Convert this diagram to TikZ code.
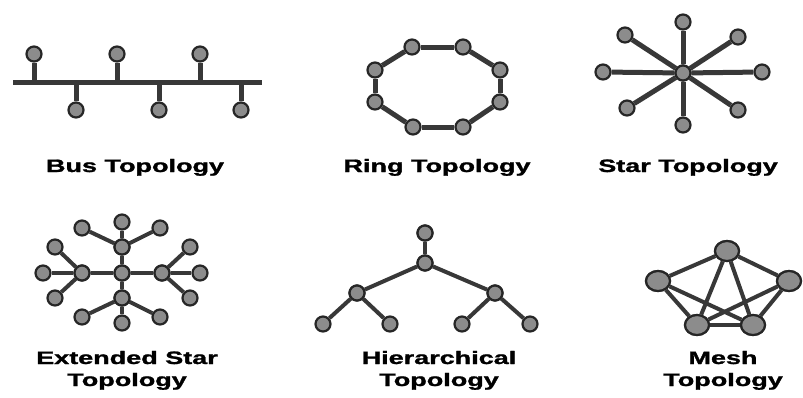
\documentclass[tikz,border=0pt]{standalone}
\usepackage{fontspec}
\usetikzlibrary{shapes.geometric}
\setmainfont{Liberation Sans}[BoldFeatures={FakeBold=1.2}]
\begin{document}
\begin{tikzpicture}[x=1pt,y=-1pt,
  nd/.style={circle,draw=black!85,line width=2.2pt,fill=black!45,inner sep=0pt,minimum size=15pt},
  bignd/.style={ellipse,draw=black!85,line width=2.2pt,fill=black!45,inner sep=0pt,minimum width=24pt,minimum height=20pt},
  ln/.style={draw=black!78,line width=5pt},
  thinln/.style={draw=black!78,line width=4pt},
  lbl/.style={font=\bfseries\fontsize{18}{22}\selectfont,anchor=base,inner sep=0pt,xscale=1.5,align=center}]
\useasboundingbox (0,0) rectangle (803,397);
% ---------- Bus ----------
\coordinate (busL) at (13,82);
\coordinate (busR) at (262,82);
\draw[ln] (busL) -- (busR);
\foreach \n/\x/\y in {b1/34/54,b2/117/54,b3/200/54,b4/76/110,b5/159/110,b6/241/110}{
  \node[nd] (\n) at (\x,\y) {};
  \coordinate (\n s) at (\x,82);
  \draw[ln] (\n) -- (\n s);
}
\node[lbl] (busT) at (135,172) {Bus Topology};
% ---------- Ring ----------
\foreach \n/\x/\y in {r1/412/47,r2/463/47,r3/500/70,r4/500/102,r5/463/127,r6/413/127,r7/375/102,r8/375/70}{
  \node[nd] (\n) at (\x,\y) {};
}
\foreach \a/\b in {r1/r2,r2/r3,r3/r4,r4/r5,r5/r6,r6/r7,r7/r8,r8/r1}{
  \draw[ln] (\a) -- (\b);
}
\node[lbl] (ringT) at (437,172) {Ring Topology};
% ---------- Star ----------
\node[nd] (sc) at (683,73) {};
\foreach \n/\x/\y in {s1/683/22,s2/738/37,s3/762/72,s4/738/110,s5/683/125,s6/627/108,s7/603/72,s8/625/35}{
  \node[nd] (\n) at (\x,\y) {};
  \draw[ln] (sc) -- (\n);
}
\node[nd] at (sc) {};
\node[lbl] (starT) at (688,172) {Star Topology};
% ---------- Extended star ----------
\node[nd] (ec) at (122,273) {};
\node[nd] (eh1) at (122,247) {};
\node[nd] (eh2) at (82,273) {};
\node[nd] (eh3) at (162,273) {};
\node[nd] (eh4) at (122,298) {};
\foreach \h in {eh1,eh2,eh3,eh4}{\draw[thinln] (ec) -- (\h);}
\foreach \n/\h/\x/\y in {e1/eh1/122/222,e2/eh1/82/228,e3/eh1/160/228,
  e4/eh2/43/273,e5/eh2/55/247,e6/eh2/55/298,
  e7/eh3/200/273,e8/eh3/190/247,e9/eh3/190/298,
  e10/eh4/122/323,e11/eh4/82/317,e12/eh4/160/317}{
  \node[nd] (\n) at (\x,\y) {};
  \draw[thinln] (\h) -- (\n);
}
\foreach \h in {ec,eh1,eh2,eh3,eh4}{\node[nd] at (\h) {};}
\node[lbl] (extT) at (127,386) {Extended Star\\Topology};
% ---------- Hierarchical ----------
\node[nd] (h0) at (425,233) {};
\node[nd] (h1) at (425,263) {};
\node[nd] (h2) at (357,293) {};
\node[nd] (h3) at (495,293) {};
\node[nd] (h4) at (323,324) {};
\node[nd] (h5) at (390,324) {};
\node[nd] (h6) at (462,324) {};
\node[nd] (h7) at (530,324) {};
\foreach \a/\b in {h0/h1,h1/h2,h1/h3,h2/h4,h2/h5,h3/h6,h3/h7}{\draw[thinln] (\a) -- (\b);}
\foreach \h in {h0,h1,h2,h3}{\node[nd] at (\h) {};}
\node[lbl] (hierT) at (439,386) {Hierarchical\\Topology};
% ---------- Mesh ----------
\node[bignd] (m1) at (727,251) {};
\node[bignd] (m2) at (658,281) {};
\node[bignd] (m3) at (789,281) {};
\node[bignd] (m4) at (697,325) {};
\node[bignd] (m5) at (753,325) {};
\foreach \a/\b in {m1/m2,m1/m3,m1/m4,m1/m5,m2/m4,m2/m5,m3/m4,m3/m5,m4/m5}{\draw[thinln] (\a) -- (\b);}
\foreach \m in {m1,m2,m3,m4,m5}{\node[bignd] at (\m) {};}
\node[lbl] (meshT) at (723,386) {Mesh\\Topology};
\end{tikzpicture}
\end{document}
